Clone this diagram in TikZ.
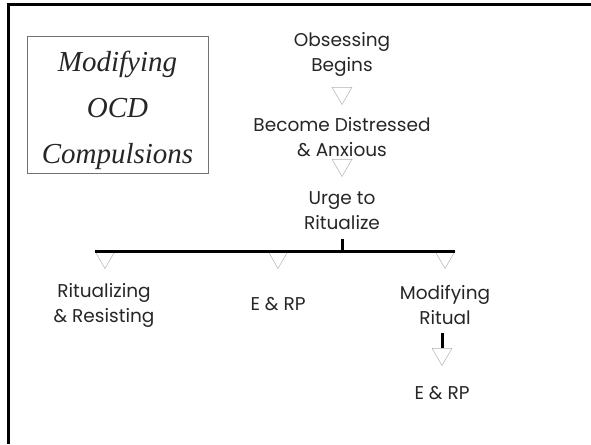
\documentclass[tikz,border=0pt]{standalone}
\usepackage{fontspec}
\setmainfont{Liberation Serif}
\newfontfamily\gothic{Poppins}
\usetikzlibrary{shapes.geometric}
\begin{document}
\begin{tikzpicture}[x=1pt, y=-1pt,
    every node/.style={font=\gothic\fontsize{18.5}{25}\selectfont, align=center, text=black!85},
    tri/.style={regular polygon, regular polygon sides=3, shape border rotate=180,
      minimum size=23pt, inner sep=0pt, draw=black!30, line width=0.5pt},
    link/.style={line width=3pt}]
  \useasboundingbox (0,0) rectangle (591,444);
  \draw[line width=3pt] (591,4.5) -- (8,4.5) -- (8,444);
  \draw[draw=black!55, line width=0.6pt] (27,36) rectangle (208,173);
  \node[font=\itshape\fontsize{29}{46}\selectfont] (title) at (117.5,110)
    {Modifying\\OCD\\Compulsions};
  % main chain
  \node (obs) at (342,54) {Obsessing\\Begins};
  \node[tri] (t1) at (342,93) {};
  \node (dist) at (342,137) {Become Distressed\\\& Anxious};
  \node[tri] (t2) at (342,165) {};
  \node (urge) at (342,211) {Urge to\\Ritualize};
  % branches
  \node[tri] (t3) at (105,257) {};
  \node[tri] (t4) at (278,257) {};
  \node[tri] (t5) at (445,257) {};
  \draw[link] (t3.corner 3) -- (t5.corner 2);
  \draw[link, shorten <=5pt] (urge.south) -- (urge.south |- t4.corner 3);
  \node (rit) at (104,305) {Ritualizing\\\& Resisting};
  \node (erp) at (278,304) {E \& RP};
  \node (modr) at (445,305) {Modifying\\Ritual};
  \node[tri] (t6) at (442,354) {};
  \draw[link, shorten <=5pt] (t6.north |- modr.south) -- (t6.north);
  \node (erpb) at (442,393) {E \& RP};
\end{tikzpicture}
\end{document}
